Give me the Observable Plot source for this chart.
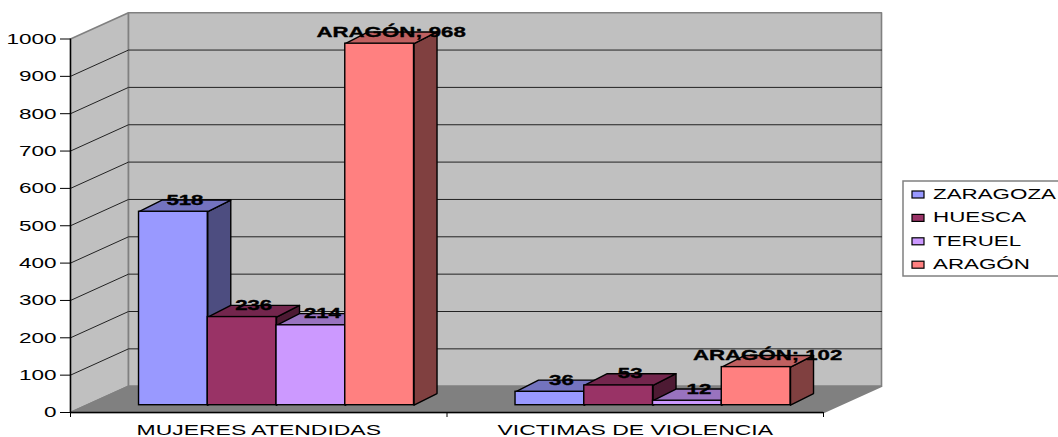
<!DOCTYPE html>
<html><head><meta charset="utf-8">
<script src="https://cdn.jsdelivr.net/npm/d3@7"></script>
<script src="https://cdn.jsdelivr.net/npm/@observablehq/plot@0.6"></script>
<style>html,body{margin:0;padding:0;background:#fff;overflow:hidden}#wrap{position:relative;width:1058px;height:437px}</style>
</head><body><div id="wrap"></div>
<script>
const categories = ["MUJERES ATENDIDAS", "VICTIMAS DE VIOLENCIA"];
const seriesNames = ["ZARAGOZA", "HUESCA", "TERUEL", "ARAGÓN"];
const zaragoza = [518, 36];
const huesca = [236, 53];
const teruel = [214, 12];
const aragon = [968, 102];
const seriesValues = [zaragoza, huesca, teruel, aragon];
const seriesColors = ["#9999FF", "#993366", "#CC99FF", "#FF8080"];
const yTicks = [0, 100, 200, 300, 400, 500, 600, 700, 800, 900, 1000];

// oblique projection, expressed in scale units
const wallX = 0.1541, wallY = 70.4;       // depth of the box
const barStart = 0.182, barW = 0.1826;    // bar placement inside a category
const barDX = 0.0611, barDY = 31.3;       // depth of a bar
const baseY = 19.5;                       // bar base lifted off the front edge

const shade = (c, k) => { const r = d3.rgb(c); return d3.rgb(r.r * k, r.g * k, r.b * k).formatHex(); };
const poly = (id, fill, pts) => pts.concat([pts[0]]).map(([x, y]) => ({id, fill, x, y}));

const walls = [
  ...poly("side", "#C0C0C0", [[0, 0], [wallX, wallY], [wallX, 1000 + wallY], [0, 1000]]),
  ...poly("back", "#C0C0C0", [[wallX, wallY], [2 + wallX, wallY], [2 + wallX, 1000 + wallY], [wallX, 1000 + wallY]]),
  ...poly("floor", "#808080", [[0, 0], [2, 0], [2 + wallX, wallY], [wallX, wallY]])
];
const grid = yTicks.slice(1, -1).flatMap(v => [
  {id: v, x: 0, y: v}, {id: v, x: wallX, y: v + wallY}, {id: v, x: 2 + wallX, y: v + wallY}
]);

const barMarks = seriesNames.flatMap((name, s) => {
  const color = seriesColors[s];
  const rows = categories.map((c, i) => {
    const x1 = i + barStart + s * barW, x2 = x1 + barW, v = seriesValues[s][i];
    return {c, x1, x2, v, y1: baseY, y2: baseY + v};
  });
  const faces = rows.flatMap(r => [
    ...poly(r.c + "side", shade(color, 0.5), [[r.x2, r.y1], [r.x2 + barDX, r.y1 + barDY], [r.x2 + barDX, r.y2 + barDY], [r.x2, r.y2]]),
    ...poly(r.c + "top", shade(color, 0.75), [[r.x1, r.y2], [r.x2, r.y2], [r.x2 + barDX, r.y2 + barDY], [r.x1 + barDX, r.y2 + barDY]])
  ]);
  return [
    Plot.line(faces, {x: "x", y: "y", z: "id", fill: "fill", stroke: "#000", strokeWidth: 1.4, curve: "linear"}),
    Plot.rect(rows, {x1: "x1", x2: "x2", y1: "y1", y2: "y2", fill: color, stroke: "#000", strokeWidth: 1.4})
  ];
});

const labelRows = seriesNames.flatMap((name, s) => categories.map((c, i) => ({
  x: i + barStart + (s + 0.5) * barW + barDX / 2,
  y: baseY + seriesValues[s][i] + barDY / 2,
  text: s === 3 ? `${name}; ${seriesValues[s][i]}` : `${seriesValues[s][i]}`
})));

const chart = Plot.plot({
  width: 1058, height: 437,
  marginLeft: 70, marginRight: 235, marginTop: 38.5, marginBottom: 25,
  style: {fontFamily: "'Liberation Sans', Arial, sans-serif", fontSize: "15px", background: "#fff", color: "#000"},
  x: {domain: [0, 2], axis: null},
  y: {domain: [0, 1000], axis: null},
  color: {type: "identity"},
  marks: [
    Plot.line(walls, {x: "x", y: "y", z: "id", fill: "fill", stroke: "#808080", strokeWidth: 1.6, curve: "linear"}),
    Plot.line(grid, {x: "x", y: "y", z: "id", stroke: "#222", strokeWidth: 1, curve: "linear"}),
    ...barMarks,
    Plot.ruleX([0], {y1: 0, y2: 1000, stroke: "#000", strokeWidth: 1.4}),
    Plot.ruleY([0], {x1: 0, x2: 2, stroke: "#000", strokeWidth: 1.4}),
    Plot.axisY({ticks: yTicks, tickSize: 10, tickPadding: 4, tickFormat: d => `${d}`, label: null, anchor: "left", stroke: "#000"}),
    Plot.axisX({ticks: [0, 1, 2], tickSize: 5, tickFormat: () => "", label: null, anchor: "bottom", stroke: "#000"}),
    Plot.axisX({ticks: [0.5, 1.5], tickSize: 0, tickPadding: 12, tickFormat: d => categories[d - 0.5], label: null, anchor: "bottom"}),
    Plot.text(labelRows, {x: "x", y: "y", text: "text", dy: -6, fontWeight: "bold", fill: "#000", stroke: "#000", strokeWidth: 0.35, fontSize: 15})
  ]
});
const wrap = document.getElementById("wrap");
wrap.appendChild(chart);

// the reference is stretched horizontally: widen glyphs while keeping the text real
function stretch(el, k) {
  const len = el.getComputedTextLength();
  el.setAttribute("textLength", len * k);
  el.setAttribute("lengthAdjust", "spacingAndGlyphs");
}
chart.querySelectorAll("text").forEach(t => {
  const bold = t.getAttribute("font-weight") === "bold" || t.closest("[font-weight=bold]");
  const isCategory = categories.includes(t.textContent);
  stretch(t, bold ? 1.48 : isCategory ? 1.53 : 1.5);
});

// legend
const legend = d3.select(wrap).append("svg")
  .attr("width", 156).attr("height", 97)
  .style("position", "absolute").style("left", "902px").style("top", "180px")
  .style("font-family", "'Liberation Sans', Arial, sans-serif").style("font-size", "15px");
legend.append("rect").attr("x", 1).attr("y", 1).attr("width", 170).attr("height", 95)
  .attr("fill", "#fff").attr("stroke", "#808080").attr("stroke-width", 1.5);
seriesNames.forEach((name, i) => {
  const cy = 14 + i * 23.4;
  legend.append("rect").attr("x", 10).attr("y", cy - 3).attr("width", 12).attr("height", 7)
    .attr("fill", seriesColors[i]).attr("stroke", "#000").attr("stroke-width", 1.2);
  const t = legend.append("text").attr("x", 31).attr("y", cy).attr("dy", "0.32em").attr("fill", "#000").text(name);
  stretch(t.node(), 1.49);
});
</script></body></html>
